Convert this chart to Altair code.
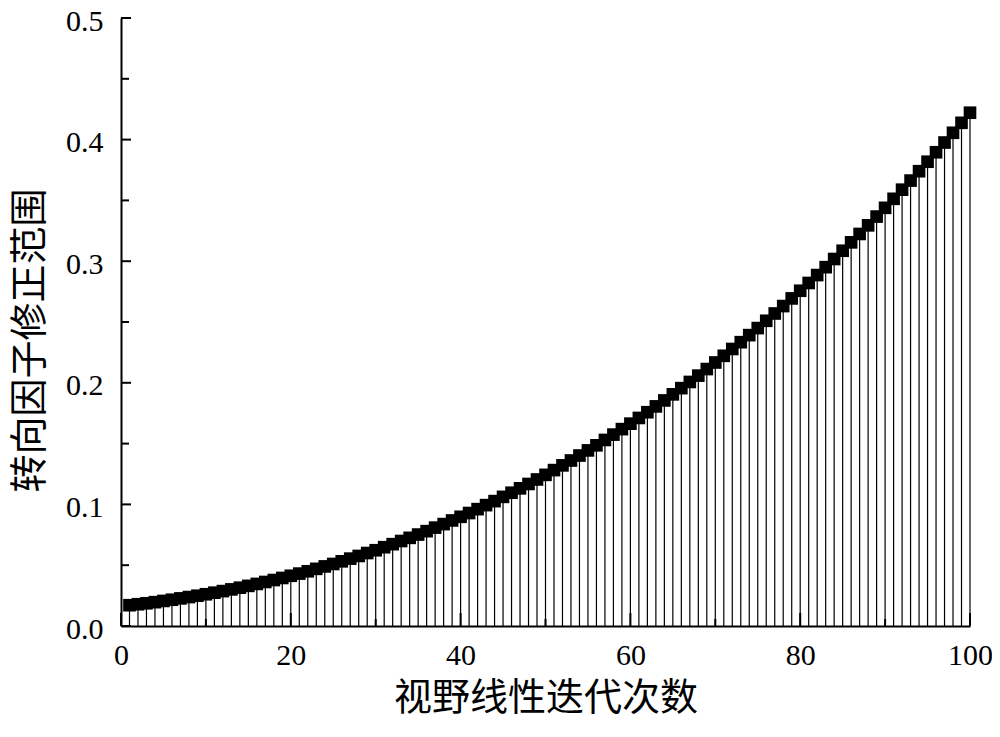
import altair as alt
import pandas as pd

iterations = list(range(1, 101))
factor = [
    0.0171, 0.0179, 0.0187, 0.0196, 0.0206, 0.0216, 0.0227, 0.0238, 0.0249, 0.0261,
    0.0274, 0.0287, 0.0301, 0.0315, 0.0330, 0.0346, 0.0362, 0.0378, 0.0395, 0.0413,
    0.0431, 0.0450, 0.0470, 0.0490, 0.0510, 0.0532, 0.0554, 0.0576, 0.0600, 0.0623,
    0.0648, 0.0673, 0.0699, 0.0725, 0.0752, 0.0780, 0.0809, 0.0838, 0.0868, 0.0898,
    0.0929, 0.0961, 0.0994, 0.1027, 0.1062, 0.1096, 0.1132, 0.1168, 0.1205, 0.1243,
    0.1282, 0.1321, 0.1361, 0.1402, 0.1444, 0.1486, 0.1530, 0.1574, 0.1619, 0.1664,
    0.1711, 0.1758, 0.1806, 0.1855, 0.1905, 0.1956, 0.2007, 0.2059, 0.2113, 0.2167,
    0.2222, 0.2278, 0.2334, 0.2392, 0.2450, 0.2510, 0.2570, 0.2631, 0.2694, 0.2757,
    0.2821, 0.2886, 0.2951, 0.3018, 0.3086, 0.3155, 0.3224, 0.3295, 0.3367, 0.3439,
    0.3513, 0.3588, 0.3663, 0.3740, 0.3818, 0.3896, 0.3976, 0.4056, 0.4138, 0.4221,
]
x_major = [0, 20, 40, 60, 80, 100]
x_minor = [10, 30, 50, 70, 90]
y_major = [0.0, 0.1, 0.2, 0.3, 0.4, 0.5]
y_minor = [0.05, 0.15, 0.25, 0.35, 0.45]

x_title = "视野线性迭代次数"
y_title = "转向因子修正范围"

W, H = 849, 608

df = pd.DataFrame({"iter": iterations, "val": factor})
xmaj = pd.DataFrame({"t": x_major})
xmin = pd.DataFrame({"t": x_minor})
ymaj = pd.DataFrame({"t": y_major})
ymin = pd.DataFrame({"t": y_minor})

xscale = alt.Scale(domain=[0, 100], nice=False, zero=False)
yscale = alt.Scale(domain=[0, 0.5], nice=False)

label_font = "Liberation Serif"
title_font = "Noto Sans CJK SC"

xaxis = alt.Axis(
    title=x_title, values=x_major, format="d", ticks=False, grid=False,
    domainColor="black", domainWidth=2, labelFont=label_font, labelFontSize=30,
    labelColor="black", labelPadding=14, labelFlush=False, titleFont=title_font,
    titleFontSize=38, titleFontWeight="normal", titleColor="black", titleY=72,
    titleBaseline="middle", labelOverlap=False, zindex=1,
)
yaxis = alt.Axis(
    title=y_title, values=y_major, format=".1f", ticks=False, grid=False,
    domainColor="black", domainWidth=2, labelFont=label_font, labelFontSize=30,
    labelColor="black", labelPadding=18, labelFlush=False, labelOffset=3,
    titleFont=title_font, titleFontSize=38, titleFontWeight="normal",
    titleColor="black", titleX=-91, titleY=322, titleBaseline="middle",
    titleAlign="center", titleAngle=-90, labelOverlap=False, zindex=1,
)

stems = alt.Chart(df).mark_rule(color="black", strokeWidth=1.2).encode(
    x=alt.X("iter:Q", scale=xscale, axis=xaxis),
    y=alt.Y("val:Q", scale=yscale, axis=yaxis),
    y2=alt.datum(0),
)
squares = alt.Chart(df).mark_square(size=160, color="black", opacity=1).encode(
    x=alt.X("iter:Q", scale=xscale),
    y=alt.Y("val:Q", scale=yscale),
)
xt_major = alt.Chart(xmaj).mark_rule(color="black", strokeWidth=2).encode(
    x=alt.X("t:Q", scale=xscale), y=alt.value(H), y2=alt.value(H - 13)
)
xt_minor = alt.Chart(xmin).mark_rule(color="black", strokeWidth=2).encode(
    x=alt.X("t:Q", scale=xscale), y=alt.value(H), y2=alt.value(H - 7)
)
yt_major = alt.Chart(ymaj).mark_rule(color="black", strokeWidth=2).encode(
    y=alt.Y("t:Q", scale=yscale), x=alt.value(0), x2=alt.value(10)
)
yt_minor = alt.Chart(ymin).mark_rule(color="black", strokeWidth=2).encode(
    y=alt.Y("t:Q", scale=yscale), x=alt.value(0), x2=alt.value(8)
)

chart = alt.layer(stems, squares, xt_major, xt_minor, yt_major, yt_minor).properties(
    width=W, height=H,
    background="white",
    autosize=alt.AutoSizeParams(type="none"),
    padding={"left": 113, "top": 10, "right": 22, "bottom": 103},
).configure_view(stroke=None)

chart.save("out.html", embed_options={"renderer": "svg", "actions": False})
